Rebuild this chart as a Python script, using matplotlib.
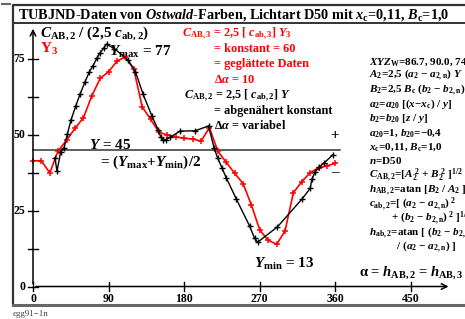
import matplotlib
matplotlib.use("Agg")
import matplotlib.pyplot as plt

plt.rcParams['font.family'] = ['Liberation Serif', 'DejaVu Serif']
plt.rcParams['font.weight'] = 'bold'
plt.rcParams['mathtext.fontset'] = 'custom'
plt.rcParams['mathtext.rm'] = 'Liberation Serif:bold'
plt.rcParams['mathtext.it'] = 'Liberation Serif:bold:italic'
plt.rcParams['mathtext.bf'] = 'Liberation Serif:bold'

# Y3 (rot), geglaettete Daten, Schritt 10 Grad
red_h = [0, 10, 20, 30, 40, 50, 60, 70, 80, 90, 100, 110, 120, 130, 140, 150, 160, 170, 180,
         190, 200, 210, 220, 230, 240, 250, 260, 270, 280, 290, 300, 310, 320, 330, 340, 350, 360]
red_y = [41.5, 41.5, 37.5, 44.8, 48.3, 52.2, 55.7, 62.9, 68.7, 70.9, 74.4, 75.8, 71.7, 59.3, 55.2,
         50.9, 50.0, 49.4, 48.9, 48.7, 48.0, 52.4, 44.7, 41.0, 37.4, 34.0, 26.9, 18.6, 15.3, 13.9,
         18.3, 31.0, 34.6, 37.6, 39.2, 39.8, 40.7]

# CAB,2/(2,5 cab,2) (schwarz), variable Schrittweite
blk_h = [26.2, 28.5, 33, 37, 40.9, 45.3, 50.9, 56, 62, 67, 71.5, 76, 80, 84, 87.5, 97, 113, 122,
         131, 141.4, 149, 152, 155.3, 158, 163, 175, 193, 209, 215.7, 219.7, 224.9, 230, 242,
         257.8, 263.8, 267.4, 291, 320, 330, 332, 336, 341, 347, 356.7]
blk_y = [42.5, 38.0, 44.5, 45.8, 50.3, 55.0, 59.6, 63.5, 67.6, 70.8, 72.9, 75.3, 77.2, 78.6, 80.0,
         78.5, 74.8, 70.9, 63.5, 56.4, 51.7, 49.4, 48.3, 48.5, 49.2, 51.3, 51.4, 53.0, 45.6, 42.5,
         39.2, 35.9, 28.9, 20.0, 15.9, 14.6, 19.7, 28.8, 32.4, 35.4, 37.9, 39.5, 40.9, 43.4]

x_ticks = [0, 90, 180, 270, 360, 450]
y_ticks = [0, 25, 50, 75]
y_minor = [12.5, 37.5, 62.5]
y_mid = 45

W, H = 465, 319
fig = plt.figure(figsize=(W / 100, H / 100), dpi=100)

# pixel based layer for frame and text
lay = fig.add_axes([0, 0, 1, 1])
lay.set_xlim(0, W)
lay.set_ylim(H, 0)
lay.axis('off')

frame_c = '#333333'
lay.plot([13, 13, 470], [305, 5.3, 5.3], color=frame_c, lw=1.6)
lay.plot([13, 470], [305, 305], color='#666666', lw=2.2)
lay.plot([13, 470], [22.5, 22.5], color=frame_c, lw=1.4)
lay.plot([2, 10], [4, 4], color='#666666', lw=1.5)
lay.text(18, 18.5, r'TUBJND-Daten von $\it{Ostwald}$-Farben, Lichtart D50 mit $x_{\rm c}$=0,11, $B_{\rm c}$=1,0',
         fontsize=10.3, ha='left', va='baseline')
lay.text(13, 316, 'egg91\u22121n', fontsize=6.5, color='#444444', weight='normal', ha='left', va='baseline')

# data axes
x0, y0 = 33, 286.5
sx, sy = 378 / 450, 227.2 / 75
ax = fig.add_axes([x0 / W, (H - y0) / H, 450 * sx / W, 75 * sy / H])
ax.set_xlim(0, 450)
ax.set_ylim(0, 75)
ax.axis('off')

ax.annotate('', xy=(0, 86), xytext=(0, 0),
            arrowprops=dict(arrowstyle='->', color='black', lw=1.1), annotation_clip=False)
ax.annotate('', xy=(498, 0), xytext=(0, 0),
            arrowprops=dict(arrowstyle='->', color='black', lw=1.1), annotation_clip=False)
for t in x_ticks:
    ax.plot([t, t], [-1.6, 1.6], color='black', lw=1, clip_on=False)
    ax.text(t, -2.3, str(t), fontsize=8.5, ha='center', va='top')
for t in y_ticks:
    ax.plot([-6, 6], [t, t], color='black', lw=1, clip_on=False)
    ax.text(-9, t, str(t), fontsize=8.5, ha='right', va='center')
for t in y_minor:
    ax.plot([-6, 6], [t, t], color='black', lw=1, clip_on=False)

ax.plot([0, 366], [y_mid, y_mid], color='#333333', lw=1.1, clip_on=False)

ax.plot(red_h, red_y, color='red', lw=1.2, marker='+', ms=5, mew=1.1, clip_on=False)
ax.plot(blk_h, blk_y, color='black', lw=1.0, marker='+', ms=4, mew=1.0, clip_on=False)

# texts (pixel layer)
lay.text(40, 37, r'$C_{\rm AB,2}$ / (2,5 $c_{\rm ab,2}$)', fontsize=11, ha='left', va='baseline')
lay.text(40, 53, r'$\rm Y_3$', fontsize=11, color='red', ha='left', va='baseline')
lay.text(109, 56, r'$Y_{\rm max}$ = 77', fontsize=11, ha='left', va='baseline')
lay.text(110, 149, r'$Y$ = 45', fontsize=11, ha='center', va='baseline')
lay.text(100, 166, r'= ($Y_{\rm max}$+$Y_{\rm min}$)/2', fontsize=11, ha='left', va='baseline')
lay.text(254, 268, r'$Y_{\rm min}$ = 13', fontsize=11, ha='left', va='baseline')
lay.text(359, 276, r'$\rm\alpha$ = $h_{\rm AB,2}$ = $h_{\rm AB,3}$', fontsize=10.5, ha='left', va='baseline')
lay.text(335, 139, '+', fontsize=11, ha='center', va='baseline')
lay.text(335, 176, '\u2013', fontsize=11, ha='center', va='baseline')

red_lines = [(182, 37, r'$C_{\rm AB,3}$ = 2,5 [ $c_{\rm ab,3}$] $Y_3$'),
             (214, 52, '= konstant = 60'),
             (214, 67, '= geglättete Daten'),
             (214, 83, r'$\Delta\alpha$ = 10')]
for x, y, s in red_lines:
    lay.text(x, y, s, fontsize=8.8, color='red', ha='left', va='baseline')
blk_lines = [(184, 99, r'$C_{\rm AB,2}$ = 2,5 [ $c_{\rm ab,2}$] $Y$'),
             (214, 114, '= abgenähert konstant'),
             (214, 129, r'$\Delta\alpha$ = variabel')]
for x, y, s in blk_lines:
    lay.text(x, y, s, fontsize=8.8, ha='left', va='baseline')

right_lines = [
    r'$XYZ_{\rm W}$=86.7, 90.0, 74.',
    r'$A_2$=2,5 ($a_2$ $-$ $a_{\rm 2,n}$) $Y$',
    r'$B_2$=2,5 $B_{\rm c}$ ($b_2$ $-$ $b_{\rm 2,n}$)',
    r'$a_2$=$a_{20}$ [($x$$-$$x_{\rm c}$) / $y$]',
    r'$b_2$=$b_{20}$ [$z$ / $y$]',
    r'$a_{20}$=1, $b_{20}$=$-$0,4',
    r'$x_{\rm c}$=0,11, $B_{\rm c}$=1,0',
    r'$n$=D50',
    r'$C_{\rm AB,2}$=[$A_2^{\ 2}$ + $B_2^{\ 2}$ ]$^{1/2}$',
    r'$h_{\rm AB,2}$=atan [$B_2$ / $A_2$ ]',
    r'$c_{\rm ab,2}$=[ ($a_2$ $-$ $a_{\rm 2,n}$)$^{\ 2}$',
    r'        + ($b_2$ $-$ $b_{\rm 2,n}$)$^{\ 2}$ ]$^{1/2}$',
    r'$h_{\rm ab,2}$=atan [ ($b_2$ $-$ $b_{\rm 2,n}$)',
    r'          / ($a_2$ $-$ $a_{\rm 2,n}$) ]',
]
for i, s in enumerate(right_lines):
    lay.text(369, 64 + i * 14.3, s, fontsize=8, ha='left', va='baseline')

fig.savefig('out.png', dpi=100)
